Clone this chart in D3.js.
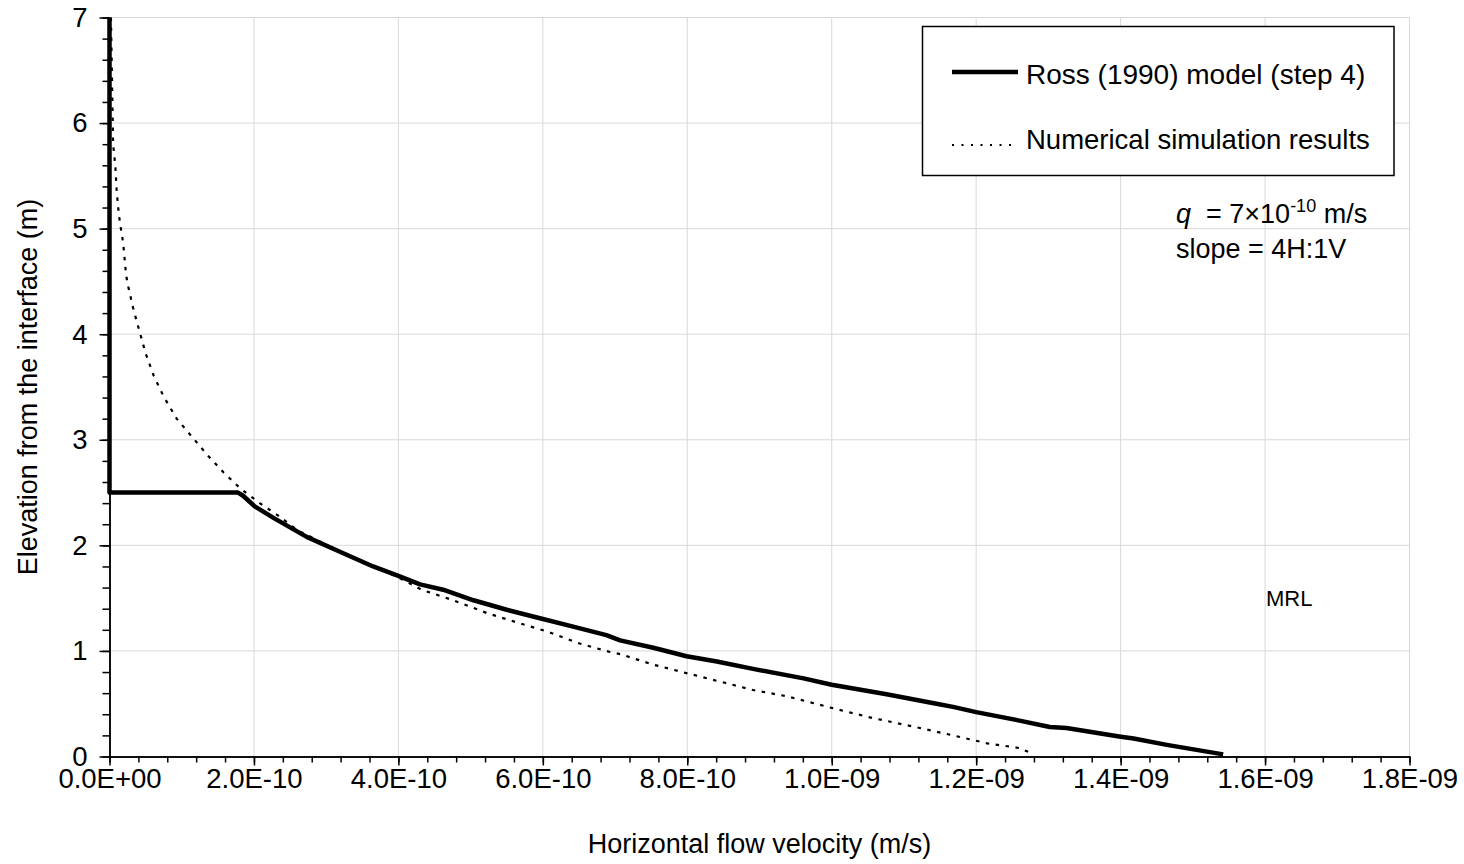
<!DOCTYPE html>
<html>
<head>
<meta charset="utf-8">
<script src="https://cdn.jsdelivr.net/npm/d3@7"></script>
<style>
  body { margin: 0; background: #fff; }
  text { font-family: "Liberation Sans", Arial, sans-serif; fill: #000; }
  .grid line { stroke: #d9d9d9; stroke-width: 1; }
  .axis path, .axis line { stroke: #000; stroke-width: 1.5; }
</style>
</head>
<body>
<div id="chart"></div>
<script>
var width = 1464;
var height = 864;

// Ross (1990) model, step 4 -- velocity (m/s) and elevation (m)
var rossV = [0, 0, 1.78e-10, 1.85e-10, 2.01e-10, 2.27e-10, 2.73e-10, 3.19e-10, 3.65e-10, 4.0e-10,
  4.30e-10, 4.62e-10, 5.04e-10, 5.50e-10, 5.96e-10, 6.42e-10, 6.88e-10, 7.07e-10, 7.53e-10, 7.99e-10,
  8.41e-10, 8.91e-10, 9.61e-10, 1.0e-9, 1.076e-9, 1.145e-9, 1.168e-9, 1.20e-9, 1.26e-9, 1.302e-9,
  1.325e-9, 1.398e-9, 1.418e-9, 1.464e-9, 1.542e-9];
var rossZ = [7, 2.5, 2.5, 2.47, 2.37, 2.26, 2.08, 1.94, 1.80, 1.71,
  1.63, 1.58, 1.48, 1.39, 1.31, 1.23, 1.15, 1.10, 1.03, 0.95,
  0.90, 0.83, 0.74, 0.68, 0.59, 0.50, 0.47, 0.42, 0.34, 0.28,
  0.27, 0.19, 0.17, 0.11, 0.02];

// numerical simulation results
var numV = [0.02e-10, 0.03e-10, 0.04e-10, 0.05e-10, 0.08e-10, 0.10e-10, 0.13e-10, 0.16e-10, 0.19e-10, 0.23e-10,
  0.26e-10, 0.33e-10, 0.41e-10, 0.50e-10, 0.61e-10, 0.75e-10, 0.93e-10, 1.14e-10, 1.35e-10, 1.58e-10,
  1.81e-10, 2.08e-10, 2.34e-10, 2.61e-10, 2.73e-10, 3.19e-10, 3.65e-10, 3.99e-10, 4.32e-10, 4.76e-10,
  5.22e-10, 5.64e-10, 6.08e-10, 6.51e-10, 6.93e-10, 7.07e-10, 7.53e-10, 7.99e-10, 8.45e-10, 8.91e-10,
  9.38e-10, 1.0e-9, 1.053e-9, 1.122e-9, 1.168e-9, 1.215e-9, 1.26e-9, 1.28e-9];
var numZ = [7.0, 6.6, 6.2, 5.8, 5.6, 5.35, 5.13, 4.99, 4.86, 4.56,
  4.45, 4.24, 4.04, 3.82, 3.61, 3.41, 3.20, 3.03, 2.86, 2.69,
  2.54, 2.40, 2.28, 2.14, 2.10, 1.94, 1.80, 1.70, 1.58, 1.48,
  1.36, 1.27, 1.18, 1.07, 0.99, 0.97, 0.87, 0.79, 0.71, 0.63,
  0.57, 0.46, 0.37, 0.27, 0.20, 0.125, 0.08, 0.02];

var xTicks = [0, 2e-10, 4e-10, 6e-10, 8e-10, 1e-9, 1.2e-9, 1.4e-9, 1.6e-9, 1.8e-9];
var xTickLabels = ["0.0E+00", "2.0E-10", "4.0E-10", "6.0E-10", "8.0E-10", "1.0E-09", "1.2E-09", "1.4E-09", "1.6E-09", "1.8E-09"];
var yTicks = [0, 1, 2, 3, 4, 5, 6, 7];

var seriesNames = ["Ross (1990) model (step 4)", "Numerical simulation results"];

var margin = {left: 109.5, top: 17.5};
var w = 1300, h = 739;

var svg = d3.select("#chart").append("svg")
  .attr("width", width)
  .attr("height", height);

var g = svg.append("g").attr("transform", "translate(" + margin.left + "," + margin.top + ")");

var x = d3.scaleLinear().domain([0, 1.8e-9]).range([0, w]);
var y = d3.scaleLinear().domain([0, 7]).range([h, 0]);

// grid
var grid = g.append("g").attr("class", "grid");
grid.selectAll(".gx").data(xTicks.slice(1)).enter().append("line")
  .attr("x1", function(d) { return x(d); }).attr("x2", function(d) { return x(d); })
  .attr("y1", 0).attr("y2", h);
grid.selectAll(".gy").data(yTicks.slice(1)).enter().append("line")
  .attr("x1", 0).attr("x2", w)
  .attr("y1", function(d) { return y(d); }).attr("y2", function(d) { return y(d); });

// minor ticks
var xMinor = d3.range(0, 46).map(function(i) { return i * 4e-11; });
var yMinor = d3.range(0, 36).map(function(i) { return i * 0.2; });

g.append("g").attr("class", "axis")
  .attr("transform", "translate(0," + h + ")")
  .call(d3.axisBottom(x).tickValues(xMinor).tickSize(6).tickSizeOuter(0).tickFormat(""));
g.append("g").attr("class", "axis")
  .call(d3.axisLeft(y).tickValues(yMinor).tickSize(7).tickSizeOuter(0).tickFormat(""));

var xAxis = g.append("g").attr("class", "axis")
  .attr("transform", "translate(0," + h + ")")
  .call(d3.axisBottom(x).tickValues(xTicks).tickSize(9).tickSizeOuter(0).tickPadding(3)
    .tickFormat(function(d, i) { return xTickLabels[i]; }));
xAxis.selectAll("text").style("font-size", "27.5px");

var yAxis = g.append("g").attr("class", "axis")
  .call(d3.axisLeft(y).tickValues(yTicks).tickSize(10).tickSizeOuter(0).tickPadding(12)
    .tickFormat(d3.format("d")));
yAxis.selectAll("text").style("font-size", "27.5px");

// lines
var line = d3.line()
  .x(function(d) { return x(d[0]); })
  .y(function(d) { return y(d[1]); });

var numData = numV.map(function(v, i) { return [v, numZ[i]]; });
var rossData = rossV.map(function(v, i) { return [v, rossZ[i]]; });

g.append("path").datum(numData)
  .attr("d", line)
  .attr("fill", "none")
  .attr("stroke", "#000")
  .attr("stroke-width", 2.2)
  .attr("stroke-dasharray", "3.5,6.5");

g.append("path").datum(rossData)
  .attr("d", line)
  .attr("fill", "none")
  .attr("stroke", "#000")
  .attr("stroke-width", 4.5)
  .attr("stroke-linejoin", "round");

// legend
var legend = svg.append("g");
legend.append("rect")
  .attr("x", 922.5).attr("y", 26.5)
  .attr("width", 471.5).attr("height", 149)
  .attr("fill", "#fff").attr("stroke", "#000").attr("stroke-width", 1.5);
legend.append("line")
  .attr("x1", 952).attr("x2", 1018).attr("y1", 72).attr("y2", 72)
  .attr("stroke", "#000").attr("stroke-width", 4.5);
legend.append("text").attr("x", 1026).attr("y", 84).style("font-size", "28px").text(seriesNames[0]);
legend.append("line")
  .attr("x1", 952).attr("x2", 1018).attr("y1", 145).attr("y2", 145)
  .attr("stroke", "#000").attr("stroke-width", 2).attr("stroke-dasharray", "2,7.5");
legend.append("text").attr("x", 1026).attr("y", 149).style("font-size", "27.5px").text(seriesNames[1]);

// annotations
var note = svg.append("text").attr("x", 1176).attr("y", 223).style("font-size", "27px");
note.append("tspan").style("font-style", "italic").text("q");
note.append("tspan").text("\u00a0 = 7\u00d710");
note.append("tspan").attr("dy", -11).style("font-size", "18px").text("-10");
note.append("tspan").attr("dy", 11).text(" m/s");

svg.append("text").attr("x", 1176).attr("y", 258).style("font-size", "27px").text("slope = 4H:1V");
svg.append("text").attr("x", 1266).attr("y", 606).style("font-size", "22px").text("MRL");

// axis titles
svg.append("text")
  .attr("x", margin.left + w / 2).attr("y", 853)
  .attr("text-anchor", "middle")
  .style("font-size", "27px")
  .text("Horizontal flow velocity (m/s)");

svg.append("text")
  .attr("transform", "translate(37," + (margin.top + h / 2) + ") rotate(-90)")
  .attr("text-anchor", "middle")
  .style("font-size", "27px")
  .text("Elevation from the interface (m)");
</script>
</body>
</html>
